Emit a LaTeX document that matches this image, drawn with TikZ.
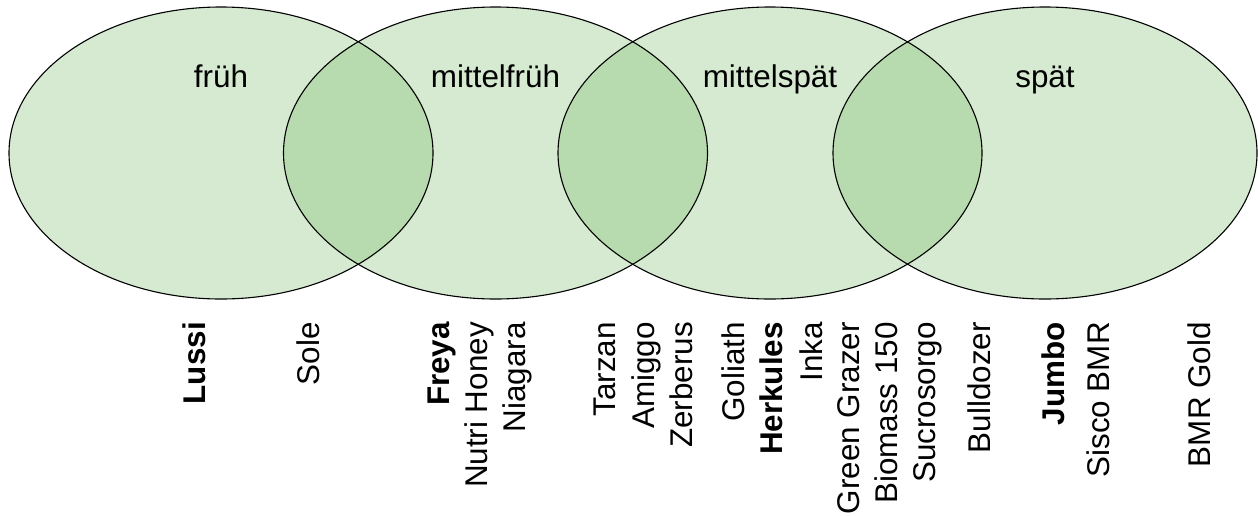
\documentclass[tikz,border=0pt]{standalone}
\usepackage{fontspec}
\setmainfont{Liberation Sans}
\definecolor{venn}{RGB}{115,185,98}
\begin{document}
\begin{tikzpicture}[x=1pt,y=-1pt,
  setfill/.style={fill=venn, fill opacity=0.3},
  rim/.style={draw=black, line width=1.1pt},
  head/.style={font=\fontsize{31.4}{37.6}\selectfont, anchor=base, inner sep=0pt},
  cult/.style={font=\fontsize{31.4}{37.6}\selectfont, rotate=90, anchor=base east, inner sep=0pt},
  boldcult/.style={cult, font=\fontsize{31.4}{37.6}\selectfont\bfseries}]
\useasboundingbox (0,0) rectangle (1258,515);
\coordinate (c1) at (221,153);
\coordinate (c2) at (495.5,153);
\coordinate (c3) at (770,153);
\coordinate (c4) at (1045,153);
\foreach \c in {c1,c2,c3,c4}
  \fill[setfill] (\c) circle[x radius=212pt, y radius=146pt];
\foreach \c in {c1,c2,c3,c4}
  \draw[rim] (\c) circle[x radius=212pt, y radius=146pt];
% headings
\node[head] (h1) at (221,87) {früh};
\node[head] (h2) at (495.5,87) {mittelfrüh};
\node[head] (h3) at (770,87) {mittelspät};
\node[head] (h4) at (1045,87) {spät};
% cultivars
\node[boldcult] (lussi) at (205,322) {Lussi};
\node[cult] (sole) at (319,322) {Sole};
\node[boldcult] (freya) at (449,322) {Freya};
\node[cult] (nutri) at (487,322) {Nutri Honey};
\node[cult] (niagara) at (525,322) {Niagara};
\node[cult] (tarzan) at (615,322) {Tarzan};
\node[cult] (amiggo) at (654,322) {Amiggo};
\node[cult] (zerberus) at (692,322) {Zerberus};
\node[cult] (goliath) at (744,322) {Goliath};
\node[boldcult] (herkules) at (782,322) {Herkules};
\node[cult] (inka) at (822,322) {Inka};
\node[cult] (green) at (859,322) {Green Grazer};
\node[cult] (biomass) at (897,322) {Biomass 150};
\node[cult] (sucro) at (935,322) {Sucrosorgo};
\node[cult] (bulldozer) at (990,322) {Bulldozer};
\node[boldcult] (jumbo) at (1064,322) {Jumbo};
\node[cult] (sisco) at (1109,322) {Sisco BMR};
\node[cult] (bmrgold) at (1210,322) {BMR Gold};
\end{tikzpicture}
\end{document}
